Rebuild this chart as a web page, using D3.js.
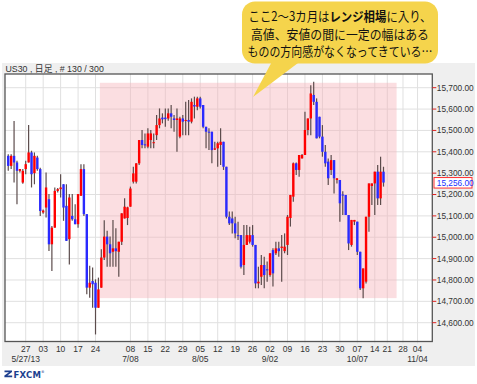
<!DOCTYPE html>
<html><head><meta charset="utf-8">
<script src="https://cdn.jsdelivr.net/npm/d3@7"></script>
<style>body{margin:0;background:#fff}svg{display:block}</style>
</head><body>
<svg id="c" width="477" height="384"></svg>
<script>
// ---- data (daily bars incl. Sunday sessions, index 0 = 5/20/13) ----
const open  = [15381,15334,15381,15350,15311,15256,15319,15350,15397,15300,15373,15319,15116,15139,15178,14967,15045,15217,15225,15248,
               15147,14991,15100,15084,15061,15194,15319,15108,14764,14795,14787,14670,14764,14905,15003,14967,14932,14948,14932,14979,
               15088,15090,15143,15260,15260,15346,15455,15435,15424,15455,15440,15478,15525,15560,15560,15556,15580,15556,15549,15471,
               15556,15545,15549,15541,15619,15611,15650,15619,15517,15494,15494,15410,15416,15432,15447,15330,15096,15088,15065,15010,
               15010,14870,14964,14979,15010,14964,14784,14815,14870,14850,14823,14940,14925,14948,14950,14935,14964,15090,15190,15346,
               15315,15369,15385,15502,15556,15666,15634,15564,15471,15400,15354,15315,15361,15268,15268,15200,15198,15104,14964,15073,
               15073,14932,14761,14792,15096,15240,15252,15307,15182,15307];
const high  = [15389,15389,15544,15358,15319,15319,15358,15525,15405,15397,15381,15325,15130,15303,15202,15053,15233,15230,15295,15248,
               15248,15202,15202,15155,15202,15342,15342,15108,14866,14858,14803,14811,14944,15080,15030,15003,15081,15042,14979,15112,
               15182,15143,15237,15330,15346,15455,15502,15486,15510,15502,15486,15572,15603,15580,15603,15603,15619,15572,15603,15564,
               15572,15634,15642,15650,15658,15658,15658,15619,15517,15510,15494,15447,15447,15510,15447,15330,15120,15120,15096,15073,
               15010,15057,15057,15049,15057,14964,14862,14917,14909,14886,14925,14948,14979,14979,15010,15018,15104,15198,15350,15350,
               15385,15390,15588,15556,15712,15728,15650,15564,15525,15432,15369,15385,15361,15276,15268,15215,15198,15104,15081,15081,
               15073,14932,14854,15096,15252,15252,15307,15338,15377,15330];
const low   = [15311,15319,15256,15155,15303,15250,15295,15350,15233,15248,15311,15100,15110,15092,14936,14842,15045,15210,15186,15077,
               14983,14873,15077,15061,15045,15194,15100,14733,14717,14670,14545,14670,14764,14893,14862,14862,14862,14862,14815,14964,
               15088,15057,15143,15252,15252,15338,15416,15416,15416,15416,15416,15455,15510,15533,15517,15545,15510,15494,15400,15463,
               15478,15478,15478,15533,15556,15595,15603,15510,15416,15408,15346,15408,15330,15338,15315,15088,15057,15018,14995,14987,
               14854,14823,14964,14971,14956,14761,14761,14776,14761,14792,14815,14769,14917,14909,14792,14925,14917,15050,15166,15291,
               15283,15369,15385,15478,15478,15619,15463,15463,15377,15330,15244,15291,15205,15252,15073,15104,15104,14940,14956,15057,
               14917,14753,14714,14784,15026,15151,15104,15151,15151,15237];
const close = [15334,15381,15350,15311,15319,15311,15342,15397,15295,15381,15319,15123,15125,15233,14967,15045,15217,15225,15233,15139,
               14983,15186,15084,15061,15202,15319,15108,14764,14787,14780,14670,14756,14905,15003,14967,14925,14948,14935,14979,15112,
               15143,15140,15228,15299,15346,15455,15432,15430,15486,15486,15445,15525,15556,15552,15553,15580,15564,15549,15556,15556,
               15541,15549,15541,15634,15612,15650,15611,15517,15494,15490,15408,15416,15440,15447,15330,15096,15065,15065,15018,15005,
               14862,14964,15010,15010,14964,14784,14792,14870,14823,14845,14925,14831,14948,14935,14956,14956,15096,15198,15346,15315,
               15385,15385,15502,15556,15673,15634,15463,15471,15400,15346,15276,15361,15276,15276,15159,15195,15104,14971,15081,15081,
               14932,14761,14854,15096,15252,15252,15307,15182,15307,15256];

const tickIdx    = [6,12,18,24,30,42,48,54,60,66,72,78,84,90,96,102,108,114,120,126,130.3,135.7,140.7];
const tickLabels = ["27","03","10","17","24","08","15","22","29","05","12","19","26","02","09","16","23","30","07","14","21","28","04"];
const dateIdx    = [6,42,66,90,120,140.7];
const dateLabels = ["5/27/13","7/08","8/05","9/02","10/07","11/04"];
const priceTicks = [14600,14700,14800,14900,15000,15100,15200,15300,15400,15500,15600,15700];
const lastPrice  = 15256;
const rangeBox   = {i0:31.5, i1:133.5, hi:15723, lo:14715};
const titleText  = "US30 , 日足 , # 130 / 300";
const calloutLines = [
  [["ここ2～3カ月は",false],["レンジ相場",true],["に入り、",false]],
  [["高値、安値の間に一定の幅はある",false]],
  [["ものの方向感がなくなってきている…",false]]
];
const calloutWidths = [183,178,185];

// ---- drawing ----
const svg = d3.select("#c");
const L=5, R=432.3, T=74, B=341.5;
const x = d3.scaleLinear().domain([0,129]).range([8.25,383.5]);
const y = d3.scaleLinear().domain([14600,15700]).range([322.7,87.7]);
const axisFont = "'Liberation Sans', Arial, sans-serif";

svg.append("rect").attr("x",2).attr("y",63).attr("width",473).attr("height",303).attr("fill","#efefef");
svg.append("rect").attr("x",L).attr("y",T).attr("width",R-L).attr("height",B-T).attr("fill","#fff");

// grid
const g = svg.append("g");
g.selectAll(".hg").data(priceTicks).join("line")
  .attr("x1",L).attr("x2",R).attr("y1",d=>y(d)).attr("y2",d=>y(d))
  .attr("stroke","#e0e0e0").attr("stroke-width",1);
g.selectAll(".vg").data(tickIdx).join("line")
  .attr("x1",d=>x(d)).attr("x2",d=>x(d)).attr("y1",T).attr("y2",B+2)
  .attr("stroke","#e0e0e0").attr("stroke-width",1);

// range highlight
svg.append("rect")
  .attr("x",x(rangeBox.i0)).attr("y",y(rangeBox.hi))
  .attr("width",x(rangeBox.i1)-x(rangeBox.i0)).attr("height",y(rangeBox.lo)-y(rangeBox.hi))
  .attr("fill","#f5b0b7").attr("fill-opacity",0.42);

// candles
const bars = d3.range(open.length).map(i=>({i,o:open[i],h:high[i],l:low[i],c:close[i]}));
const cg = svg.append("g");
cg.selectAll(".wick").data(bars).join("line")
  .attr("x1",d=>x(d.i)).attr("x2",d=>x(d.i))
  .attr("y1",d=>y(d.h)).attr("y2",d=>y(d.l))
  .attr("stroke","#5c4c4c").attr("stroke-width",1.2);
cg.selectAll(".body").data(bars).join("rect")
  .attr("x",d=>x(d.i)-1.2).attr("width",2.4)
  .attr("y",d=>y(Math.max(d.o,d.c)))
  .attr("height",d=>Math.max(1,Math.abs(y(d.o)-y(d.c))))
  .attr("fill",d=>d.c>=d.o?"#ff0000":"#2a2aff");

// frame
svg.append("rect").attr("x",L).attr("y",T).attr("width",R-L).attr("height",B-T)
  .attr("fill","none").attr("stroke","#555").attr("stroke-width",1.3);

// right axis
const ya = svg.append("g");
ya.selectAll(".yt").data(priceTicks).join("line")
  .attr("x1",R).attr("x2",R+4).attr("y1",d=>y(d)).attr("y2",d=>y(d))
  .attr("stroke","#e02020").attr("stroke-width",1);
ya.selectAll(".yl").data(priceTicks).join("text")
  .attr("x",R+4.5).attr("y",d=>y(d)).attr("dy","0.35em")
  .attr("font-family",axisFont).attr("font-size",8.3).attr("fill","#333")
  .text(d=>d3.format(",.2f")(d));
// last price box
svg.append("rect").attr("x",434).attr("y",y(lastPrice)-5).attr("width",38).attr("height",10.5)
  .attr("fill","#fff").attr("stroke","#ff3030").attr("stroke-width",1);
svg.append("text").attr("x",R+4.5).attr("y",y(lastPrice)).attr("dy","0.38em")
  .attr("font-family",axisFont).attr("font-size",8.3).attr("fill","#2030ff")
  .text(d3.format(",.2f")(lastPrice));

// bottom axis labels
svg.selectAll(".xl").data(tickIdx).join("text")
  .attr("x",(d)=>x(d)).attr("y",352).attr("text-anchor","middle")
  .attr("font-family",axisFont).attr("font-size",8.5).attr("fill","#333")
  .text((d,k)=>tickLabels[k]);
svg.selectAll(".dl").data(dateIdx).join("text")
  .attr("x",d=>x(d)).attr("y",362).attr("text-anchor","middle")
  .attr("font-family",axisFont).attr("font-size",8.5).attr("fill","#333")
  .text((d,k)=>dateLabels[k]);

// title
svg.append("text").attr("x",5.5).attr("y",72).attr("font-family","'Liberation Sans','Noto Sans CJK JP',sans-serif")
  .attr("font-size",8.8).attr("fill","#333").text(titleText);

// callout
const cx=242, cy=1.5, cw=196, ch=62;
svg.append("path")
  .attr("d",`M272,${cy+ch-2} L253,97 L300,${cy+ch-2} Z`)
  .attr("fill","#f5d44c");
svg.append("rect").attr("x",cx).attr("y",cy).attr("width",cw).attr("height",ch).attr("rx",13)
  .attr("fill","#f5d44c");
const ct = svg.append("g").attr("font-family","'Noto Sans CJK JP','Noto Sans CJK SC',sans-serif")
  .attr("font-size",12.6).attr("fill","#111");
calloutLines.forEach((parts,k)=>{
  const lineG = ct.append("g");
  const t = lineG.append("text").attr("x",0).attr("y",0).attr("text-anchor","middle");
  parts.forEach(([s,b])=>t.append("tspan").attr("font-weight",b?"bold":"normal").text(s));
  const w = t.node().getComputedTextLength() || calloutWidths[k];
  const sx = Math.min(1, calloutWidths[k]/w);
  lineG.attr("transform",`translate(${cx+cw/2},${21.2+k*17.6}) scale(${sx},1)`);
});

// logo
const lg = svg.append("g").attr("fill","#1d3f8f");
lg.append("path").attr("d","M4.5,370.5 h7.5 v1.6 l-4.6,3.3 h4.8 v1.8 h-7.8 v-1.6 l4.6,-3.3 h-4.5 z");
lg.append("text").attr("x",13.5).attr("y",378).attr("font-family","'DejaVu Sans',sans-serif")
  .attr("font-weight","bold").attr("font-size",8.5).attr("letter-spacing",0.2).text("FXCM");
lg.append("text").attr("x",41).attr("y",373).attr("font-family","'DejaVu Sans',sans-serif")
  .attr("font-size",3.5).text("®");
</script>
</body></html>
